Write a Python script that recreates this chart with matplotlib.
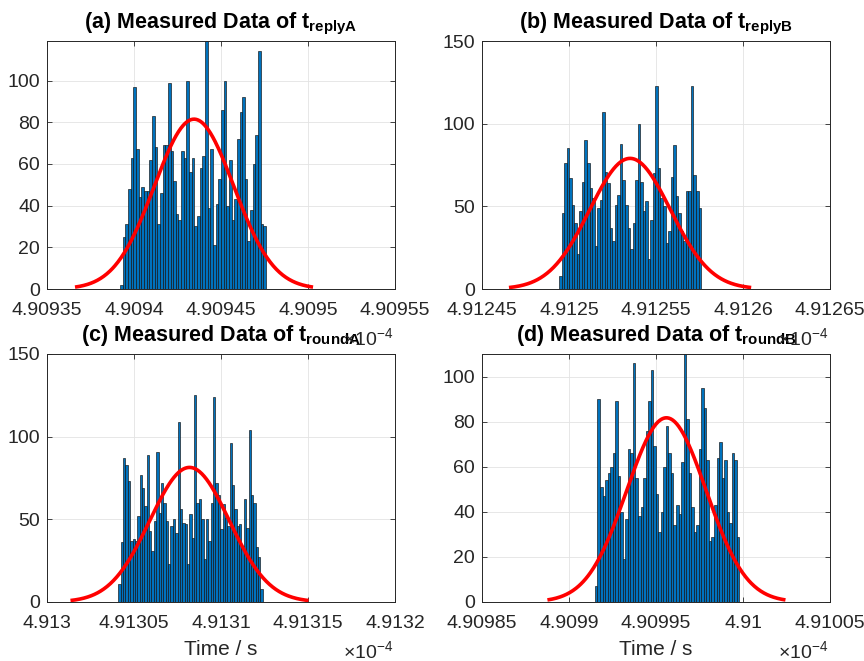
import numpy as np
import matplotlib
matplotlib.use('Agg')
import matplotlib.pyplot as plt

plt.rcParams['font.family'] = ['Liberation Sans', 'DejaVu Sans']
plt.rcParams['mathtext.fontset'] = 'custom'
plt.rcParams['mathtext.rm'] = 'Liberation Sans'
plt.rcParams['mathtext.bf'] = 'Liberation Sans:bold'
plt.rcParams['mathtext.it'] = 'Liberation Sans:italic'

# ---------------- data (x values in units of 1e-4 s) ----------------
titles = [r'(a) Measured Data of $\mathbf{t}_{\mathbf{replyA}}$',
          r'(b) Measured Data of $\mathbf{t}_{\mathbf{replyB}}$',
          r'(c) Measured Data of $\mathbf{t}_{\mathbf{roundA}}$',
          r'(d) Measured Data of $\mathbf{t}_{\mathbf{roundB}}$']

counts_a = [2, 25, 31, 48, 63, 97, 67, 44, 49, 47,
            47, 62, 83, 68, 31, 46, 69, 69, 99, 66,
            52, 36, 33, 66, 63, 100, 56, 63, 30, 35,
            58, 64, 119, 39, 67, 21, 41, 53, 86, 100,
            40, 62, 33, 43, 72, 85, 92, 53, 23, 38,
            60, 74, 114, 31, 30]
counts_b = [8, 46, 76, 85, 67, 51, 40, 21, 47, 65,
            90, 76, 61, 55, 26, 49, 54, 107, 71, 64,
            37, 29, 51, 57, 88, 66, 51, 37, 24, 40,
            66, 100, 65, 47, 53, 18, 42, 70, 123, 73,
            55, 50, 28, 35, 68, 87, 56, 46, 35, 29,
            59, 59, 123, 69, 59, 49]
counts_c = [11, 36, 87, 83, 73, 37, 38, 37, 52, 77, 69,
            58, 89, 43, 31, 49, 91, 54, 72, 60, 49,
            23, 46, 50, 42, 109, 56, 48, 47, 23, 53,
            39, 125, 60, 62, 50, 26, 50, 37, 60, 124,
            72, 65, 44, 59, 51, 46, 96, 71, 56, 46,
            47, 34, 62, 45, 104, 65, 60, 33, 27, 8]
counts_d = [7, 90, 51, 47, 54, 57, 60, 66, 89, 56,
            40, 19, 37, 68, 66, 106, 55, 38, 42, 55,
            76, 89, 103, 69, 48, 31, 40, 60, 78, 66,
            57, 34, 43, 39, 62, 110, 81, 57, 42, 31,
            34, 68, 95, 86, 63, 27, 29, 43, 64, 71,
            55, 63, 40, 35, 66, 63, 29]

bin_range_a = (4.9093920, 4.9094759)
bin_range_b = (4.9124943, 4.9125759)
bin_range_c = (4.9130410, 4.9131240)
bin_range_d = (4.9099149, 4.9099979)

# normal fit: (mean, std, peak height)
fit_a = (4.9094345, 2.28e-5, 81.5)
fit_b = (4.9125351, 2.32e-5, 79.0)
fit_c = (4.9130819, 2.28e-5, 81.4)
fit_d = (4.9099560, 2.28e-5, 81.7)

xticks_a = [4.90935, 4.90940, 4.90945, 4.90950, 4.90955]
xticks_b = [4.91245, 4.91250, 4.91255, 4.91260, 4.91265]
xticks_c = [4.91300, 4.91305, 4.91310, 4.91315, 4.91320]
xticks_d = [4.90985, 4.90990, 4.90995, 4.91000, 4.91005]
xticklabels_a = ['4.90935', '4.9094', '4.90945', '4.9095', '4.90955']
xticklabels_b = ['4.91245', '4.9125', '4.91255', '4.9126', '4.91265']
xticklabels_c = ['4.913', '4.91305', '4.9131', '4.91315', '4.9132']
xticklabels_d = ['4.90985', '4.9099', '4.90995', '4.91', '4.91005']

yticks_a = [0, 20, 40, 60, 80, 100]
yticks_b = [0, 50, 100, 150]
yticks_c = [0, 50, 100, 150]
yticks_d = [0, 20, 40, 60, 80, 100]
ylim_a, ylim_b, ylim_c, ylim_d = 119, 150, 150, 110

xlabel = 'Time / s'

# ---------------- figure ----------------
W, H = 864, 661
fig = plt.figure(figsize=(W / 100, H / 100), dpi=100)
fig.patch.set_facecolor('white')

axc = '#262626'
panels = [
    (counts_a, bin_range_a, fit_a, xticks_a, xticklabels_a, yticks_a, ylim_a, (47, 41)),
    (counts_b, bin_range_b, fit_b, xticks_b, xticklabels_b, yticks_b, ylim_b, (482, 41)),
    (counts_c, bin_range_c, fit_c, xticks_c, xticklabels_c, yticks_c, ylim_c, (47, 354)),
    (counts_d, bin_range_d, fit_d, xticks_d, xticklabels_d, yticks_d, ylim_d, (482, 354)),
]
aw, ah = 348, 248

# exponent labels first so titles overlay them
for i, (cnt, rng, fit, xt, xtl, yt, ylim, (px, py)) in enumerate(panels):
    ey = py + ah + 49
    fig.text((px + aw - 2) / W, 1 - ey / H, r'$\times$10$^{-4}$', ha='right', va='center',
             fontsize=14, color=axc)

for i, (cnt, rng, fit, xt, xtl, yt, ylim, (px, py)) in enumerate(panels):
    ax = fig.add_axes([px / W, 1 - (py + ah) / H, aw / W, ah / H])
    edges = np.linspace(rng[0], rng[1], len(cnt) + 1)
    ax.bar(edges[:-1], cnt, width=np.diff(edges), align='edge',
           color='#0072BD', edgecolor='#111111', linewidth=0.45, zorder=2)
    mu, sd, pk = fit
    xx = np.linspace(mu - 3 * sd, mu + 3 * sd, 300)
    ax.plot(xx, pk * np.exp(-0.5 * ((xx - mu) / sd) ** 2), color='red',
            lw=2.6, zorder=3, solid_capstyle='butt')
    ax.set_xlim(xt[0], xt[-1])
    ax.set_ylim(0, ylim)
    ax.set_xticks(xt)
    ax.set_xticklabels(xtl)
    ax.set_yticks(yt)
    ax.set_yticklabels([str(v) for v in yt])
    ax.grid(True, color='#e3e3e3', linewidth=0.6, zorder=0)
    ax.set_axisbelow(True)
    ax.tick_params(direction='in', length=3.5, width=0.6, colors=axc,
                   labelsize=14, top=True, right=True)
    ax.tick_params(axis='x', pad=9)
    ax.tick_params(axis='y', pad=5)
    for s in ax.spines.values():
        s.set_color(axc)
        s.set_linewidth(0.7)
    ax.set_title(titles[i], fontsize=15.5, fontweight='bold', color='black', pad=9)
    ax.patch.set_alpha(0)
    if i >= 2:
        ax.set_xlabel(xlabel, fontsize=15, color=axc, labelpad=6)

fig.savefig('out.png', dpi=100, facecolor='white')
